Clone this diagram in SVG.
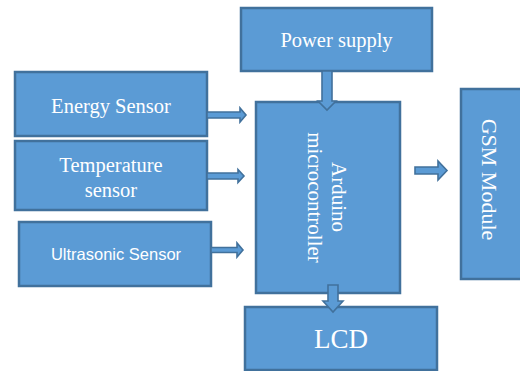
<svg xmlns="http://www.w3.org/2000/svg" width="520" height="371" viewBox="0 0 520 371">
<style>
.box{fill:#5b9bd5;stroke:#41719c;stroke-width:2.5}
.arr{fill:#5b9bd5;stroke:#41719c;stroke-width:1.6;stroke-linejoin:miter}
.t{font-family:"Liberation Serif","Times New Roman",serif;fill:#ffffff;text-anchor:middle}
.s{font-family:"Liberation Sans",Arial,sans-serif;fill:#ffffff;text-anchor:middle}
</style>
<rect width="520" height="371" fill="#ffffff"/>
<g id="power">
<rect class="box" x="241" y="8" width="191" height="63"/>
<text class="t" x="336.5" y="47" font-size="20.5">Power supply</text>
</g>
<g id="energy">
<rect class="box" x="15" y="72" width="192" height="64"/>
<text class="t" x="111" y="113" font-size="20.5">Energy Sensor</text>
</g>
<g id="temperature">
<rect class="box" x="15" y="141" width="192" height="69"/>
<text class="t" x="111" y="172" font-size="20.5">Temperature</text>
<text class="t" x="111" y="197" font-size="20.5">sensor</text>
</g>
<g id="ultrasonic">
<rect class="box" x="19" y="222" width="192" height="64"/>
<text class="s" x="116" y="260" font-size="16.5">Ultrasonic Sensor</text>
</g>
<g id="arduino">
<rect class="box" x="256" y="102" width="144" height="191"/>
<text class="t" font-size="21" transform="translate(332,197) rotate(90)">Arduino</text>
<text class="t" font-size="21" transform="translate(308,197.5) rotate(90)">microcontroller</text>
</g>
<g id="gsm">
<rect class="box" x="461" y="89" width="70" height="190"/>
<text class="t" font-size="22" transform="translate(482,179.5) rotate(90)">GSM Module</text>
</g>
<g id="lcd">
<rect class="box" x="245" y="307" width="192" height="63"/>
<text class="t" x="341" y="348" font-size="27">LCD</text>
</g>
<g id="connectors">
<path class="arr" d="M207,112 H240 V108 L246,115 L240,122 V118 H207 Z"/>
<path class="arr" d="M207,173 H238 V169.5 L244,176 L238,182.5 V179 H207 Z"/>
<path class="arr" d="M211,247.5 H237 V243 L243,250 L237,257 V252.5 H211 Z"/>
<path class="arr" d="M322,71 V101 H318 L327,110 L336,101 H332 V71 Z"/>
<path class="arr" d="M328,285 V301 H323 L333,312 L343,301 H338 V285 Z"/>
<path class="arr" d="M415,167 H438 V161 L447,170.5 L438,180 V174 H415 Z"/>
</g>
</svg>
